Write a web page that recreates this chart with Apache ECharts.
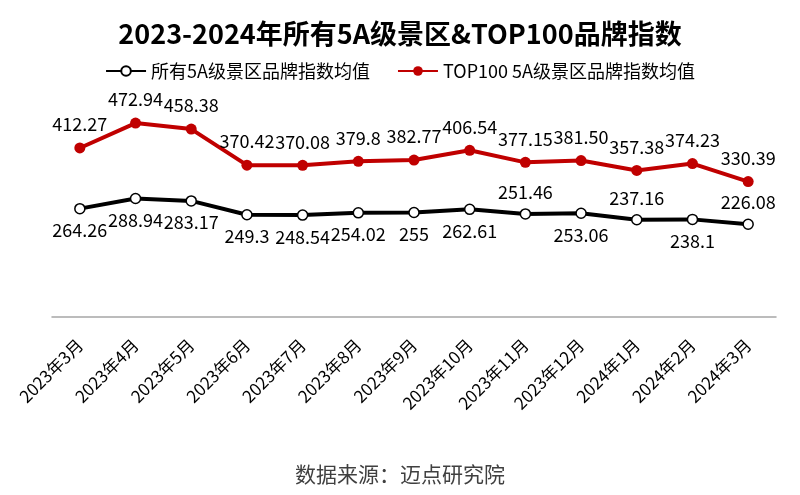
<!DOCTYPE html>
<html><head><meta charset="utf-8">
<script src="https://cdn.jsdelivr.net/npm/echarts@6/dist/echarts.min.js"></script>
<style>html,body{margin:0;padding:0;background:#fff}#c{width:800px;height:495px}</style>
</head><body><div id="c"></div>
<script>
const categories = ['2023年3月','2023年4月','2023年5月','2023年6月','2023年7月','2023年8月','2023年9月','2023年10月','2023年11月','2023年12月','2024年1月','2024年2月','2024年3月'];
const allValues = [264.26,288.94,283.17,249.3,248.54,254.02,255,262.61,251.46,253.06,237.16,238.1,226.08];
const allLabelText = ['264.26','288.94','283.17','249.3','248.54','254.02','255','262.61','251.46','253.06','237.16','238.1','226.08'];
const allLabelPos = ['bottom','bottom','bottom','bottom','bottom','bottom','bottom','bottom','top','bottom','top','bottom','top'];
const topValues = [412.27,472.94,458.38,370.42,370.08,379.8,382.77,406.54,377.15,381.50,357.38,374.23,330.39];
const topLabelText = ['412.27','472.94','458.38','370.42','370.08','379.8','382.77','406.54','377.15','381.50','357.38','374.23','330.39'];
const seriesNames = ['所有5A级景区品牌指数均值','TOP100 5A级景区品牌指数均值'];

const font = '"Noto Sans CJK SC", "Noto Sans", sans-serif';
const chart = echarts.init(document.getElementById('c'));
chart.setOption({
  backgroundColor:'#fff',
  textStyle:{fontFamily:font},
  title:{text:'2023-2024年所有5A级景区&TOP100品牌指数',left:'center',top:15,
    textStyle:{fontFamily:font,fontSize:27,fontWeight:'bold',color:'#000'}},
  legend:{top:57,left:'center',itemWidth:40,itemHeight:12,itemGap:27,
    textStyle:{fontFamily:font,fontSize:18,color:'#000'},
    data:seriesNames},
  graphic:[{type:'text',left:'center',top:464,style:{text:'数据来源：迈点研究院',font:'21px '+font,fill:'#404040'}}],
  grid:{left:52,right:24,top:112,bottom:178},
  xAxis:{type:'category',data:categories,boundaryGap:true,
    axisLine:{lineStyle:{color:'#a6a6a6',width:1.5}},
    axisTick:{inside:true,length:5,lineStyle:{color:'#a6a6a6'}},
    axisLabel:{rotate:45,fontSize:17,color:'#000',fontFamily:font,margin:25,interval:0}},
  yAxis:{type:'value',min:0,max:500,show:false,splitLine:{show:false}},
  series:[
    {name:seriesNames[0],type:'line',data:allValues.map((v,i)=>({value:v,label:{position:allLabelPos[i],formatter:allLabelText[i]}})),
      lineStyle:{color:'#000',width:4},itemStyle:{color:'#fff',borderColor:'#000',borderWidth:1.5},
      symbol:'circle',symbolSize:10,showAllSymbol:true,
      label:{show:true,fontSize:18,color:'#000',fontFamily:font,distance:7}},
    {name:seriesNames[1],type:'line',data:topValues.map((v,i)=>({value:v,label:{formatter:topLabelText[i]}})),
      lineStyle:{color:'#c00000',width:4},itemStyle:{color:'#c00000'},
      symbol:'circle',symbolSize:11,showAllSymbol:true,
      label:{show:true,position:'top',fontSize:18,color:'#000',fontFamily:font,distance:9}}
  ]
});
</script></body></html>
